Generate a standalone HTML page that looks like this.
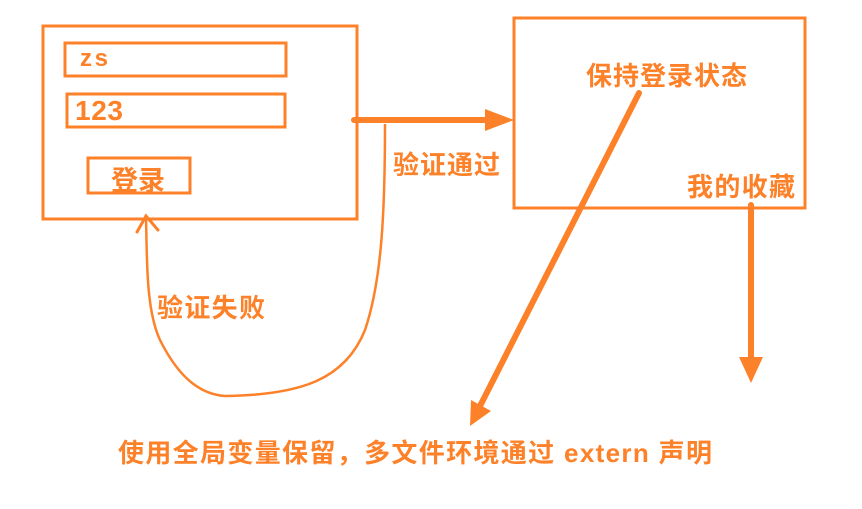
<!DOCTYPE html>
<html><head><meta charset="utf-8"><style>
body{margin:0;background:#fff;width:862px;height:504px;overflow:hidden}
svg text{font-family:"Liberation Sans","Noto Sans CJK SC",sans-serif;font-weight:bold;fill:#fd8128}
</style></head><body>
<svg width="862" height="504" viewBox="0 0 862 504" xmlns="http://www.w3.org/2000/svg">
<g fill="none" stroke="#fd8128" stroke-width="3">
<rect x="43" y="26" width="314" height="193"/>
<rect x="65" y="43" width="221" height="33"/>
<rect x="67" y="94" width="218" height="33"/>
<rect x="88" y="158" width="102" height="35"/>
<rect x="514" y="18" width="291" height="190"/>
</g>
<line x1="354" y1="120" x2="495" y2="120" stroke="#fd8128" stroke-width="6" stroke-linecap="round"/>
<polygon points="485,109 514,120 485,131" fill="#fd8128"/>
<path d="M385,124 C385,210 382,280 365,330 C345,380 300,395 225,396 C195,394 175,370 160,340 C146,310 147,260 146,215" fill="none" stroke="#fd8128" stroke-width="2.5"/>
<path d="M137,232 L146,216 L158,230" fill="none" stroke="#fd8128" stroke-width="3" stroke-linecap="round"/>
<line x1="639" y1="93" x2="478" y2="410" stroke="#fd8128" stroke-width="6" stroke-linecap="round"/>
<polygon points="470,426 471,400 491,411" fill="#fd8128"/>
<line x1="751" y1="205" x2="751" y2="365" stroke="#fd8128" stroke-width="6" stroke-linecap="round"/>
<polygon points="739,357 763,357 751,383" fill="#fd8128"/>
<text x="80" y="66" font-size="24" textLength="28">zs</text>
<text x="75" y="120" font-size="28" textLength="48">123</text>
<text x="111" y="190" font-size="27">登录</text>
<text x="393" y="174" font-size="26" textLength="107">验证通过</text>
<text x="157" y="317" font-size="26" textLength="108">验证失败</text>
<text x="586" y="85" font-size="26" textLength="161">保持登录状态</text>
<text x="687" y="196" font-size="26" textLength="108">我的收藏</text>
<text x="118" y="462" font-size="26" textLength="594">使用全局变量保留，多文件环境通过 extern  声明</text>
</svg>
</body></html>
